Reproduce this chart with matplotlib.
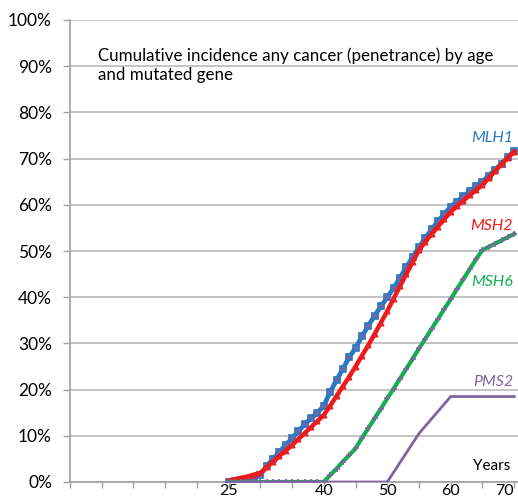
import numpy as np
import matplotlib.pyplot as plt

# ages, one point per year
years = list(range(25, 71))

# cumulative incidence (%)
mlh1 = [0.0, 0.2, 0.4, 0.6, 0.8, 1.5, 3.5, 5.0, 6.5, 8.0,
        9.5, 11.0, 12.5, 13.8, 15.0, 16.5, 19.5, 22.0, 24.5, 27.0,
        29.0, 31.5, 33.8, 36.0, 38.0, 40.0, 42.0, 44.2, 46.5, 48.7,
        50.8, 52.8, 54.7, 56.5, 58.0, 59.6, 60.7, 61.8, 62.9, 64.0,
        65.0, 66.3, 67.6, 68.9, 70.3, 71.7]
msh2 = [0.3, 0.6, 0.9, 1.2, 1.6, 2.0, 3.2, 4.4, 5.6, 6.8,
        8.0, 9.3, 10.6, 11.9, 13.2, 14.5, 16.5, 18.6, 20.7, 22.8,
        25.0, 27.3, 29.6, 32.0, 34.5, 37.0, 39.7, 42.4, 45.0, 47.6,
        50.2, 52.0, 53.7, 55.3, 56.9, 58.5, 59.7, 60.9, 62.1, 63.2,
        64.3, 65.8, 67.3, 68.8, 70.2, 71.5]
msh6 = [0, 0, 0, 0, 0, 0, 0, 0, 0, 0,
        0, 0, 0, 0, 0, 0, 1.5, 2.9, 4.4, 5.8,
        7.3, 9.5, 11.6, 13.8, 15.9, 18.1, 20.2, 22.4, 24.5, 26.7,
        28.9, 31.0, 33.2, 35.3, 37.5, 39.6, 41.8, 43.9, 46.1, 48.2,
        50.2, 50.9, 51.6, 52.3, 53.0, 53.7]
pms2 = [0, 0, 0, 0, 0, 0, 0, 0, 0, 0,
        0, 0, 0, 0, 0, 0, 0, 0, 0, 0,
        0, 0, 0, 0, 0, 0, 2.1, 4.2, 6.3, 8.4,
        10.5, 12.1, 13.7, 15.3, 16.9, 18.5, 18.5, 18.5, 18.5, 18.5,
        18.5, 18.5, 18.5, 18.5, 18.5, 18.5]

xticks = list(range(0, 71, 5))
xlabels = {25: '25', 40: '40', 50: '50', 60: '60', 70: '70'}

blue = '#2a78c2'
red = '#f01818'
green = '#10b050'
purple = '#8064a2'

plt.rcParams['font.family'] = ['Lato', 'DejaVu Sans']

fig = plt.figure(figsize=(5.18, 5.01), dpi=100)
ax = fig.add_axes([70 / 518, 19 / 501, 448 / 518, 462 / 501])

y = lambda v: np.array(v) / 100.0

ax.plot(years, y(mlh1), color=blue, lw=3.4, marker='s', ms=4,
        mfc='#6a6aa8', mec=blue, mew=1.2, zorder=3)
ax.plot(years, y(msh2), color=red, lw=3.2, marker='^', ms=3.5,
        mfc='#d03040', mec=red, mew=0.8, zorder=4)
ax.plot(years, y(msh6), color=green, lw=3.0, marker='+', ms=5,
        mec=purple, mew=1.1, zorder=5)
ax.plot(years, y(pms2), color=purple, lw=2.0, zorder=6)
ax.plot(years[:16], y(pms2[:16]), ls='none', marker='+', ms=4,
        mec=purple, mew=1.0, zorder=6)

ax.set_xlim(0, 70.6)
ax.set_ylim(0, 1.0)
ax.set_xticks(xticks)
ax.set_xticklabels([xlabels.get(t, '') for t in xticks], fontsize=11.5)
# last label would run off the right edge
ax.get_xticklabels()[-1].set_horizontalalignment('right')
ax.set_yticks(np.arange(0, 1.01, 0.1))
ax.set_yticklabels([f'{int(round(v * 100))}%' for v in np.arange(0, 1.01, 0.1)],
                   fontsize=12.5)

ax.grid(axis='y', color='#c4c4c4', lw=1.4)
ax.set_axisbelow(True)
for s in ['top', 'right']:
    ax.spines[s].set_visible(False)
ax.spines['left'].set_color('#a0a0a0')
ax.spines['bottom'].set_color('#a0a0a0')
ax.spines['left'].set_linewidth(1.2)
ax.spines['bottom'].set_linewidth(1.2)
ax.tick_params(axis='both', colors='#a0a0a0', width=1.0, length=5,
               labelcolor='black')
ax.tick_params(axis='y', pad=8)
ax.tick_params(axis='x', length=4, pad=-2.5)

ax.text(4.4, 0.9015, 'Cumulative incidence any cancer (penetrance) by age\nand mutated gene',
        fontsize=12.2, va='center', ha='left', linespacing=1.25)

ax.text(69.8, 0.745, 'MLH1', color=blue, style='italic', fontsize=11.5, ha='right', va='center')
ax.text(69.8, 0.555, 'MSH2', color=red, style='italic', fontsize=11.5, ha='right', va='center')
ax.text(69.8, 0.433, 'MSH6', color=green, style='italic', fontsize=11.5, ha='right', va='center')
ax.text(69.8, 0.217, 'PMS2', color=purple, style='italic', fontsize=11.5, ha='right', va='center')
ax.text(69.4, 0.035, 'Years', color='black', fontsize=11, ha='right', va='center')

fig.savefig('out.png', dpi=100)
